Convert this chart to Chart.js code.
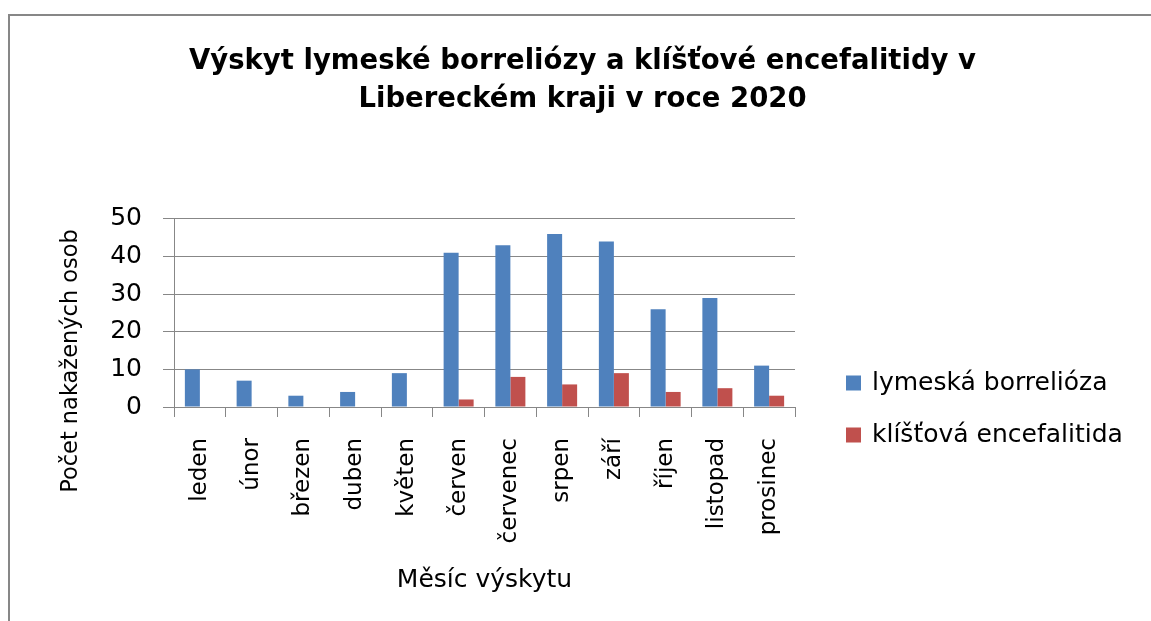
<!DOCTYPE html>
<html><head><meta charset="utf-8">
<script src="https://cdn.jsdelivr.net/npm/chart.js@4"></script>
<style>
html,body{margin:0;padding:0;background:#fff;overflow:hidden}
#wrap{position:relative;width:1151px;height:621px;overflow:hidden}
#frame{position:absolute;left:8px;top:14px;width:1300px;height:800px;border-top:2px solid #878787;border-left:2px solid #878787;}
canvas{position:absolute;left:0;top:0}
</style></head><body>
<div id="wrap"><div id="frame"></div><canvas id="c" width="1151" height="621"></canvas></div>
<script>
const categories = ['leden','únor','březen','duben','květen','červen','červenec','srpen','září','říjen','listopad','prosinec'];
const lymeValues = [10, 7, 3, 4, 9, 41, 43, 46, 44, 26, 29, 11];
const tbeValues  = [0, 0, 0, 0, 0, 2, 8, 6, 9, 4, 5, 3];
const seriesNames = ['lymeská borrelióza', 'klíšťová encefalitida'];
const yTicks = [0, 10, 20, 30, 40, 50];
const titleLines = ['Výskyt lymeské borreliózy a klíšťové encefalitidy v', 'Libereckém kraji v roce 2020'];
const yAxisTitle = 'Počet nakažených osob';
const xAxisTitle = 'Měsíc výskytu';

const FAM = "'DejaVu Sans'";
const GRID = '#878787';

const yTitlePlugin = {
  id: 'yTitle',
  afterDraw(chart) {
    const ctx = chart.ctx;
    ctx.save();
    ctx.translate(71, 361);
    ctx.rotate(-Math.PI / 2);
    ctx.font = "22.5px " + FAM;
    ctx.fillStyle = '#000';
    ctx.textAlign = 'center';
    ctx.textBaseline = 'middle';
    ctx.fillText(yAxisTitle, 0, 0);
    ctx.restore();
  }
};

const sideLegendPlugin = {
  id: 'sideLegend',
  afterDraw(chart) {
    const ctx = chart.ctx;
    const x0 = chart.chartArea.right + 51;
    const y0 = 383, step = 52, box = 15;
    ctx.save();
    ctx.font = "25px " + FAM;
    ctx.textAlign = 'left';
    ctx.textBaseline = 'middle';
    chart.data.datasets.forEach((ds, i) => {
      const cy = y0 + i * step;
      ctx.fillStyle = ds.backgroundColor;
      ctx.fillRect(x0, cy - box / 2, box, box);
      ctx.fillStyle = '#000';
      ctx.fillText(ds.label, x0 + 26, cy);
    });
    ctx.restore();
  }
};

new Chart(document.getElementById('c'), {
  type: 'bar',
  data: {
    labels: categories,
    datasets: [
      { label: seriesNames[0], data: lymeValues, backgroundColor: '#4F81BD', borderWidth: 0,
        categoryPercentage: 0.58, barPercentage: 1.0 },
      { label: seriesNames[1], data: tbeValues, backgroundColor: '#C0504D', borderWidth: 0,
        categoryPercentage: 0.58, barPercentage: 1.0 }
    ]
  },
  options: {
    responsive: false,
    animation: false,
    devicePixelRatio: 1,
    layout: { padding: { left: 30, right: 16, top: 0, bottom: 0 } },
    plugins: {
      title: {
        display: true,
        text: titleLines,
        color: '#000',
        font: { family: FAM, size: 27.5, weight: 'bold', lineHeight: 1.38 },
        padding: { top: 43, bottom: 100 }
      },
      legend: { display: false },
      tooltip: { enabled: false }
    },
    scales: {
      x: {
        grid: { display: true, drawOnChartArea: false, drawTicks: true, tickLength: 10, color: GRID, offset: true },
        border: { display: true, color: GRID, width: 1 },
        ticks: {
          font: { family: FAM, size: 23 },
          color: '#000',
          minRotation: 90,
          maxRotation: 90,
          autoSkip: false,
          padding: 21
        },
        title: {
          display: true,
          text: xAxisTitle,
          color: '#000',
          font: { family: FAM, size: 25 },
          padding: { top: 10, bottom: 26 }
        },
        afterFit(scale) { scale.height = 214; }
      },
      y: {
        min: yTicks[0],
        max: yTicks[yTicks.length - 1],
        grid: { color: GRID, lineWidth: 1, drawTicks: true, tickLength: 11 },
        border: { display: true, color: GRID, width: 1 },
        ticks: {
          stepSize: yTicks[1] - yTicks[0],
          font: { family: FAM, size: 25 },
          color: '#000',
          padding: 21
        },
        title: { display: false },
        afterFit(scale) { scale.width = 144; }
      },
      legendSpace: {
        type: 'linear',
        position: 'right',
        display: true,
        grid: { display: false },
        border: { display: false },
        ticks: { display: false },
        afterFit(scale) { scale.width = 340; }
      }
    }
  },
  plugins: [yTitlePlugin, sideLegendPlugin]
});
</script>
</body></html>
